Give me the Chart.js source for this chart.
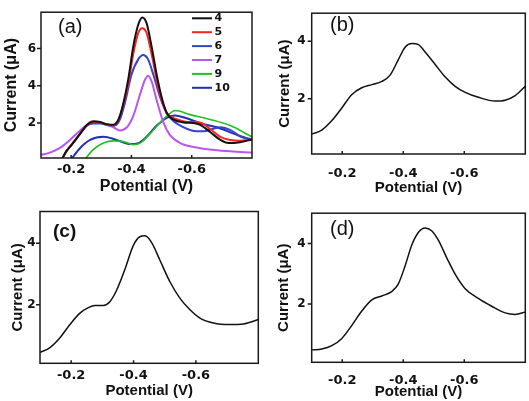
<!DOCTYPE html>
<html><head><meta charset="utf-8">
<script src="https://cdn.jsdelivr.net/npm/chart.js@4"></script>
<style>
html,body{margin:0;padding:0;background:#fff;}
body{width:529px;height:401px;position:relative;overflow:hidden;}
canvas{position:absolute;}
</style></head><body>
<canvas id="ca" width="264" height="200" style="left:0;top:0"></canvas>
<canvas id="cb" width="265" height="200" style="left:264px;top:0"></canvas>
<canvas id="cc" width="264" height="201" style="left:0;top:200px"></canvas>
<canvas id="cd" width="265" height="201" style="left:264px;top:200px"></canvas>
<script>
// ---- Panel (a) series ----
const a4V = [-0.169,-0.185,-0.202,-0.23,-0.252,-0.274,-0.296,-0.318,-0.34,-0.357,-0.373,-0.39,-0.406,-0.423,-0.436,-0.45,-0.467,-0.484,-0.5,-0.517,-0.539,-0.573,-0.606,-0.628,-0.661,-0.695,-0.722,-0.76,-0.8];
const a4I = [0.05,0.5,0.84,1.43,1.89,2.09,2.05,1.94,1.9,2.19,3.05,4.4,6.1,7.3,7.67,7.38,6.1,4.58,3.39,2.54,2.19,2.03,2.0,1.9,1.52,1.09,0.92,0.97,1.12];
const a5V = [-0.169,-0.185,-0.202,-0.23,-0.252,-0.274,-0.296,-0.318,-0.34,-0.357,-0.373,-0.39,-0.406,-0.423,-0.436,-0.45,-0.467,-0.484,-0.5,-0.517,-0.55,-0.584,-0.628,-0.661,-0.695,-0.728,-0.76,-0.8];
const a5I = [0.05,0.5,0.84,1.43,1.87,2.05,2.02,1.92,1.88,2.15,2.95,4.15,5.7,6.85,7.09,6.85,5.7,4.3,3.25,2.55,2.2,2.06,2.03,1.68,1.26,1.09,1.05,1.12];
const a6V = [-0.169,-0.185,-0.202,-0.23,-0.252,-0.274,-0.296,-0.329,-0.345,-0.362,-0.378,-0.4,-0.423,-0.439,-0.455,-0.473,-0.495,-0.517,-0.539,-0.567,-0.6,-0.64,-0.668,-0.696,-0.73,-0.764,-0.8];
const a6I = [0.05,0.5,0.84,1.43,1.85,1.97,1.97,1.86,1.86,2.19,3.05,4.58,5.43,5.65,5.43,4.58,3.39,2.54,2.11,1.82,1.6,1.55,1.68,1.77,1.6,1.26,1.12];
const a7V = [-0.1,-0.13,-0.163,-0.196,-0.23,-0.257,-0.279,-0.307,-0.34,-0.362,-0.385,-0.406,-0.429,-0.445,-0.455,-0.467,-0.484,-0.506,-0.528,-0.562,-0.606,-0.684,-0.8];
const a7I = [0.29,0.41,0.66,1.09,1.6,1.94,2.03,1.97,1.77,1.6,1.77,2.37,3.56,4.32,4.54,4.23,3.21,2.03,1.35,0.92,0.71,0.53,0.41];
const a9V = [-0.246,-0.274,-0.307,-0.34,-0.373,-0.406,-0.429,-0.462,-0.495,-0.523,-0.545,-0.595,-0.661,-0.728,-0.8];
const a9I = [0.05,0.58,0.92,1.04,1.0,0.84,0.92,1.43,2.03,2.45,2.67,2.45,2.19,1.86,1.25];
const a10V = [-0.2,-0.23,-0.263,-0.307,-0.351,-0.396,-0.423,-0.45,-0.484,-0.517,-0.545,-0.578,-0.628,-0.684,-0.739,-0.784,-0.8];
const a10I = [0.05,0.66,1.09,1.26,1.09,0.87,0.92,1.26,1.86,2.28,2.4,2.28,1.99,1.77,1.43,1.17,1.12];
const aLabels = ['4','5','6','7','9','10'];

// ---- Panels (b), (c), (d) ----
const bV = [-0.1,-0.133,-0.166,-0.198,-0.231,-0.264,-0.297,-0.33,-0.357,-0.384,-0.406,-0.428,-0.45,-0.471,-0.504,-0.537,-0.57,-0.603,-0.646,-0.701,-0.734,-0.767,-0.8];
const bI = [0.77,0.91,1.24,1.67,2.14,2.38,2.49,2.6,2.82,3.36,3.79,3.92,3.88,3.63,3.2,2.76,2.43,2.22,2.05,1.92,1.95,2.11,2.43];
const cV = [-0.1,-0.132,-0.164,-0.196,-0.228,-0.255,-0.276,-0.303,-0.324,-0.346,-0.373,-0.399,-0.42,-0.437,-0.458,-0.485,-0.517,-0.549,-0.581,-0.613,-0.656,-0.709,-0.752,-0.8];
const cI = [0.45,0.61,0.93,1.36,1.73,1.91,1.98,1.98,2.1,2.48,3.17,3.92,4.21,4.24,4.02,3.44,2.74,2.21,1.84,1.57,1.41,1.36,1.38,1.52];
const dV = [-0.1,-0.133,-0.166,-0.198,-0.231,-0.264,-0.297,-0.33,-0.362,-0.384,-0.406,-0.428,-0.45,-0.471,-0.493,-0.515,-0.543,-0.57,-0.603,-0.646,-0.69,-0.734,-0.767,-0.8];
const dI = [0.49,0.52,0.63,0.86,1.29,1.77,2.14,2.27,2.41,2.67,3.26,3.95,4.37,4.51,4.42,4.11,3.52,2.99,2.51,2.19,1.93,1.71,1.66,1.74];

const xTickVals = [-0.2,-0.4,-0.6];
const yTickValsA = [2,4,6];
const yTickValsBCD = [2,4];
const xTitle = 'Potential (V)';
const yTitle = 'Current (\u03BCA)';

const FONT = "'Liberation Sans', Arial, sans-serif";
const TFONT = "'DejaVu Sans', Verdana, sans-serif";
const pts = (V, I) => V.map((v, i) => ({x: v, y: I[i]}));

const frame = {
  id: 'frame',
  afterDatasetsDraw(chart, args, o) {
    const {ctx, chartArea: a, scales: {x, y}} = chart;
    ctx.save();
    ctx.strokeStyle = '#1a1a1a';
    ctx.lineWidth = 1.5;
    ctx.strokeRect(a.left, a.top, a.right - a.left, a.bottom - a.top);
    ctx.beginPath();
    y.ticks.forEach(t => { const py = y.getPixelForValue(t.value); ctx.moveTo(a.left - 4, py); ctx.lineTo(a.left, py); });
    x.ticks.forEach(t => { const px = x.getPixelForValue(t.value); ctx.moveTo(px, a.bottom); ctx.lineTo(px, a.bottom - 3); });
    ctx.stroke();
    ctx.fillStyle = '#111';
    ctx.font = o.letterFont;
    ctx.textBaseline = 'middle';
    ctx.textAlign = 'left';
    ctx.fillText(o.letter, o.lx, o.ly);
    if (o.legend) {
      ctx.font = 'bold 11px ' + TFONT;
      chart.data.datasets.forEach((ds, i) => {
        const yy = 18.3 + i * 13.9;
        ctx.strokeStyle = ds.borderColor;
        ctx.lineWidth = 2;
        ctx.beginPath(); ctx.moveTo(192, yy); ctx.lineTo(212, yy); ctx.stroke();
        ctx.fillStyle = '#111';
        ctx.fillText(ds.label, 214.5, yy);
      });
    }
    ctx.restore();
  }
};

function makePanel(id, p) {
  new Chart(document.getElementById(id), {
    type: 'line',
    data: { datasets: p.series.map(s => ({
      label: s.label, data: pts(s.V, s.I), borderColor: s.color, borderWidth: s.w,
      pointRadius: 0, fill: false, cubicInterpolationMode: 'monotone'
    })) },
    options: {
      responsive: false, animation: false, devicePixelRatio: 1,
      layout: { padding: { top: p.top, right: p.right, left: 0, bottom: 0 } },
      plugins: { legend: { display: false }, tooltip: { enabled: false },
        frame: { letter: p.letter, letterFont: p.letterFont, lx: p.lx, ly: p.ly, legend: !!p.legend } },
      scales: {
        x: {
          type: 'linear', reverse: true, min: -0.8, max: -0.1,
          afterBuildTicks: s => { s.ticks = xTickVals.map(v => ({value: v})); },
          afterFit: s => { s.height = p.xh; },
          grid: { display: false, drawTicks: false, tickLength: 0 }, border: { display: false },
          ticks: { color: '#111', padding: p.xtp, maxRotation: 0, font: { family: TFONT, weight: 'bold', size: 13 },
            callback: v => Number(v).toFixed(1) },
          title: { display: true, text: xTitle, color: '#111', padding: { top: 0, bottom: p.xtitlePad },
            font: { family: FONT, weight: 'bold', size: p.titleSize } }
        },
        y: {
          type: 'linear', min: p.ymin, max: p.ymax,
          afterBuildTicks: s => { s.ticks = p.yTicks.map(v => ({value: v})); },
          afterFit: s => { s.width = p.yw; },
          grid: { display: false, drawTicks: false, tickLength: 0 }, border: { display: false },
          ticks: { color: '#111', padding: p.ytp, font: { family: TFONT, weight: 'bold', size: p.yTickSize },
            callback: v => String(v) },
          title: { display: true, text: yTitle, color: '#111', padding: { top: p.ytitlePad, bottom: 0 },
            font: { family: FONT, weight: 'bold', size: p.titleSize } }
        }
      }
    },
    plugins: [frame]
  });
}

makePanel('ca', {
  series: [
    {label: aLabels[0], V: a4V, I: a4I, color: '#111111', w: 2},
    {label: aLabels[1], V: a5V, I: a5I, color: '#ff2222', w: 2},
    {label: aLabels[2], V: a6V, I: a6I, color: '#3344d0', w: 2},
    {label: aLabels[3], V: a7V, I: a7I, color: '#bb55ee', w: 2},
    {label: aLabels[4], V: a9V, I: a9I, color: '#22c022', w: 1.6},
    {label: aLabels[5], V: a10V, I: a10I, color: '#2030b8', w: 2}
  ],
  top: 4, right: 12, xh: 42, yw: 41, xtp: 3.5, ytp: 5, xtitlePad: 4, ytitlePad: 2,
  ymin: 0.12, ymax: 7.95, yTicks: yTickValsA, yTickSize: 12, titleSize: 16,
  letter: '(a)', letterFont: '20px ' + FONT, lx: 58, ly: 27, legend: true
});
makePanel('cb', {
  series: [{label: 'b', V: bV, I: bI, color: '#111111', w: 1.5}],
  top: 4, right: 3.7, xh: 46, yw: 47.7, xtp: 12, ytp: 6, xtitlePad: 3, ytitlePad: 12,
  ymin: 0.08, ymax: 4.97, yTicks: yTickValsBCD, yTickSize: 12, titleSize: 15,
  letter: '(b)', letterFont: '20px ' + FONT, lx: 66, ly: 25
});
makePanel('cc', {
  series: [{label: 'c', V: cV, I: cI, color: '#111111', w: 1.5}],
  top: 8.3, right: 5.7, xh: 37.7, yw: 40, xtp: 4.4, ytp: 4.3, xtitlePad: 1, ytitlePad: 9,
  ymin: 0.1, ymax: 5.03, yTicks: yTickValsBCD, yTickSize: 12, titleSize: 15,
  letter: '(c)', letterFont: 'bold 19px ' + FONT, lx: 53, ly: 31.7
});
makePanel('cd', {
  series: [{label: 'd', V: dV, I: dI, color: '#111111', w: 1.5}],
  top: 8.3, right: 3.7, xh: 38.7, yw: 47.7, xtp: 10.4, ytp: 6, xtitlePad: 0, ytitlePad: 11,
  ymin: 0.08, ymax: 5.0, yTicks: yTickValsBCD, yTickSize: 12, titleSize: 15,
  letter: '(d)', letterFont: '20px ' + FONT, lx: 66, ly: 29
});
</script>
</body></html>
